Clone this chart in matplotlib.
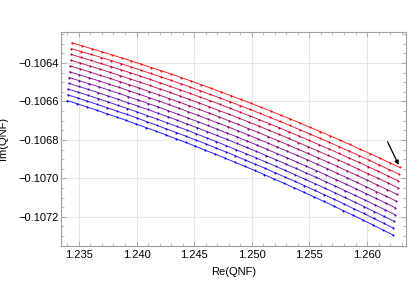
import matplotlib
matplotlib.use("Agg")
import matplotlib.pyplot as plt
from matplotlib.ticker import MultipleLocator

plt.rcParams['font.family'] = ['Liberation Sans', 'DejaVu Sans']
plt.rcParams['font.size'] = 8

# 11 curves, red (top) to blue (bottom)
re_0 = [1.23439, 1.23525, 1.23611, 1.23698, 1.23784, 1.23870, 1.23956, 1.24042, 1.24128, 1.24215, 1.24301, 1.24387, 1.24473, 1.24559, 1.24646, 1.24732, 1.24818, 1.24904, 1.24990, 1.25076, 1.25163, 1.25249, 1.25335, 1.25421, 1.25507, 1.25594, 1.25680, 1.25766, 1.25852, 1.25938, 1.26024, 1.26111, 1.26197, 1.26283]
im_0 = [-0.106296, -0.106311, -0.106326, -0.106342, -0.106358, -0.106374, -0.106390, -0.106407, -0.106424, -0.106441, -0.106458, -0.106476, -0.106494, -0.106513, -0.106532, -0.106551, -0.106570, -0.106590, -0.106609, -0.106630, -0.106650, -0.106671, -0.106692, -0.106713, -0.106735, -0.106757, -0.106779, -0.106802, -0.106824, -0.106848, -0.106871, -0.106895, -0.106919, -0.106943]

re_1 = [1.23435, 1.23521, 1.23607, 1.23694, 1.23780, 1.23866, 1.23952, 1.24038, 1.24123, 1.24210, 1.24296, 1.24382, 1.24468, 1.24554, 1.24641, 1.24727, 1.24813, 1.24899, 1.24985, 1.25071, 1.25158, 1.25244, 1.25330, 1.25416, 1.25501, 1.25588, 1.25674, 1.25760, 1.25846, 1.25932, 1.26018, 1.26105, 1.26191, 1.26277]
im_1 = [-0.106326, -0.106341, -0.106356, -0.106372, -0.106388, -0.106404, -0.106421, -0.106438, -0.106455, -0.106472, -0.106490, -0.106508, -0.106526, -0.106545, -0.106564, -0.106583, -0.106602, -0.106622, -0.106642, -0.106662, -0.106683, -0.106704, -0.106725, -0.106747, -0.106769, -0.106791, -0.106813, -0.106836, -0.106859, -0.106882, -0.106905, -0.106930, -0.106954, -0.106978]

re_2 = [1.23431, 1.23517, 1.23603, 1.23690, 1.23775, 1.23861, 1.23947, 1.24033, 1.24119, 1.24206, 1.24292, 1.24378, 1.24463, 1.24549, 1.24636, 1.24722, 1.24808, 1.24894, 1.24980, 1.25066, 1.25152, 1.25238, 1.25324, 1.25410, 1.25496, 1.25583, 1.25669, 1.25755, 1.25840, 1.25926, 1.26012, 1.26099, 1.26185, 1.26271]
im_2 = [-0.106356, -0.106371, -0.106387, -0.106403, -0.106419, -0.106435, -0.106452, -0.106469, -0.106486, -0.106504, -0.106522, -0.106540, -0.106558, -0.106577, -0.106596, -0.106615, -0.106635, -0.106655, -0.106675, -0.106695, -0.106716, -0.106737, -0.106759, -0.106780, -0.106802, -0.106825, -0.106847, -0.106870, -0.106893, -0.106916, -0.106940, -0.106964, -0.106989, -0.107013]

re_3 = [1.23427, 1.23513, 1.23599, 1.23685, 1.23771, 1.23857, 1.23943, 1.24029, 1.24114, 1.24201, 1.24287, 1.24373, 1.24459, 1.24545, 1.24631, 1.24717, 1.24803, 1.24889, 1.24975, 1.25060, 1.25147, 1.25233, 1.25319, 1.25405, 1.25490, 1.25577, 1.25663, 1.25749, 1.25835, 1.25920, 1.26006, 1.26093, 1.26179, 1.26265]
im_3 = [-0.106386, -0.106401, -0.106417, -0.106433, -0.106449, -0.106466, -0.106483, -0.106500, -0.106517, -0.106535, -0.106553, -0.106571, -0.106590, -0.106609, -0.106628, -0.106648, -0.106667, -0.106687, -0.106708, -0.106728, -0.106750, -0.106771, -0.106792, -0.106814, -0.106836, -0.106859, -0.106881, -0.106904, -0.106927, -0.106951, -0.106975, -0.106999, -0.107023, -0.107048]

re_4 = [1.23423, 1.23509, 1.23594, 1.23681, 1.23767, 1.23853, 1.23938, 1.24024, 1.24110, 1.24197, 1.24282, 1.24368, 1.24454, 1.24540, 1.24626, 1.24712, 1.24798, 1.24884, 1.24969, 1.25055, 1.25142, 1.25228, 1.25313, 1.25399, 1.25485, 1.25572, 1.25657, 1.25743, 1.25829, 1.25915, 1.26000, 1.26087, 1.26173, 1.26259]
im_4 = [-0.106416, -0.106431, -0.106447, -0.106464, -0.106480, -0.106497, -0.106514, -0.106531, -0.106549, -0.106567, -0.106585, -0.106603, -0.106622, -0.106641, -0.106660, -0.106680, -0.106700, -0.106720, -0.106741, -0.106761, -0.106783, -0.106804, -0.106826, -0.106848, -0.106870, -0.106893, -0.106915, -0.106938, -0.106962, -0.106985, -0.107009, -0.107034, -0.107058, -0.107083]

re_5 = [1.23419, 1.23505, 1.23590, 1.23677, 1.23763, 1.23848, 1.23934, 1.24020, 1.24105, 1.24192, 1.24278, 1.24364, 1.24449, 1.24535, 1.24622, 1.24707, 1.24793, 1.24879, 1.24964, 1.25050, 1.25137, 1.25222, 1.25308, 1.25394, 1.25479, 1.25566, 1.25652, 1.25737, 1.25823, 1.25909, 1.25994, 1.26081, 1.26167, 1.26253]
im_5 = [-0.106446, -0.106462, -0.106478, -0.106494, -0.106511, -0.106527, -0.106545, -0.106562, -0.106580, -0.106598, -0.106616, -0.106635, -0.106654, -0.106673, -0.106693, -0.106712, -0.106732, -0.106753, -0.106773, -0.106794, -0.106816, -0.106837, -0.106859, -0.106881, -0.106903, -0.106926, -0.106949, -0.106973, -0.106996, -0.107020, -0.107044, -0.107069, -0.107093, -0.107118]

re_6 = [1.23415, 1.23501, 1.23586, 1.23673, 1.23758, 1.23844, 1.23930, 1.24015, 1.24101, 1.24188, 1.24273, 1.24359, 1.24444, 1.24530, 1.24617, 1.24702, 1.24788, 1.24874, 1.24959, 1.25045, 1.25131, 1.25217, 1.25303, 1.25388, 1.25474, 1.25560, 1.25646, 1.25732, 1.25817, 1.25903, 1.25989, 1.26075, 1.26161, 1.26246]
im_6 = [-0.106476, -0.106492, -0.106508, -0.106524, -0.106541, -0.106558, -0.106576, -0.106593, -0.106611, -0.106629, -0.106648, -0.106667, -0.106686, -0.106705, -0.106725, -0.106745, -0.106765, -0.106785, -0.106806, -0.106827, -0.106849, -0.106871, -0.106892, -0.106915, -0.106937, -0.106960, -0.106983, -0.107007, -0.107030, -0.107054, -0.107079, -0.107103, -0.107128, -0.107153]

re_7 = [1.23411, 1.23497, 1.23582, 1.23669, 1.23754, 1.23840, 1.23925, 1.24011, 1.24096, 1.24183, 1.24269, 1.24354, 1.24440, 1.24525, 1.24612, 1.24697, 1.24783, 1.24868, 1.24954, 1.25040, 1.25126, 1.25212, 1.25297, 1.25383, 1.25468, 1.25555, 1.25640, 1.25726, 1.25812, 1.25897, 1.25983, 1.26069, 1.26155, 1.26240]
im_7 = [-0.106506, -0.106522, -0.106538, -0.106555, -0.106572, -0.106589, -0.106607, -0.106624, -0.106642, -0.106661, -0.106679, -0.106698, -0.106718, -0.106737, -0.106757, -0.106777, -0.106797, -0.106818, -0.106839, -0.106860, -0.106882, -0.106904, -0.106926, -0.106948, -0.106971, -0.106994, -0.107017, -0.107041, -0.107065, -0.107089, -0.107113, -0.107138, -0.107163, -0.107188]

re_8 = [1.23407, 1.23492, 1.23578, 1.23664, 1.23750, 1.23835, 1.23921, 1.24006, 1.24092, 1.24178, 1.24264, 1.24349, 1.24435, 1.24520, 1.24607, 1.24692, 1.24778, 1.24863, 1.24949, 1.25034, 1.25121, 1.25206, 1.25292, 1.25377, 1.25463, 1.25549, 1.25635, 1.25720, 1.25806, 1.25891, 1.25977, 1.26063, 1.26149, 1.26234]
im_8 = [-0.106536, -0.106552, -0.106568, -0.106585, -0.106602, -0.106620, -0.106637, -0.106655, -0.106674, -0.106692, -0.106711, -0.106730, -0.106749, -0.106769, -0.106789, -0.106809, -0.106830, -0.106851, -0.106872, -0.106893, -0.106915, -0.106937, -0.106959, -0.106982, -0.107005, -0.107028, -0.107051, -0.107075, -0.107099, -0.107123, -0.107148, -0.107173, -0.107198, -0.107223]

re_9 = [1.23403, 1.23488, 1.23574, 1.23660, 1.23746, 1.23831, 1.23917, 1.24002, 1.24087, 1.24174, 1.24259, 1.24345, 1.24430, 1.24516, 1.24602, 1.24687, 1.24773, 1.24858, 1.24944, 1.25029, 1.25116, 1.25201, 1.25286, 1.25372, 1.25457, 1.25544, 1.25629, 1.25715, 1.25800, 1.25885, 1.25971, 1.26057, 1.26143, 1.26228]
im_9 = [-0.106566, -0.106582, -0.106599, -0.106616, -0.106633, -0.106651, -0.106668, -0.106686, -0.106705, -0.106724, -0.106743, -0.106762, -0.106781, -0.106801, -0.106821, -0.106842, -0.106862, -0.106883, -0.106905, -0.106926, -0.106948, -0.106970, -0.106993, -0.107015, -0.107038, -0.107062, -0.107085, -0.107109, -0.107133, -0.107158, -0.107182, -0.107208, -0.107233, -0.107258]

re_10 = [1.23399, 1.23484, 1.23570, 1.23656, 1.23741, 1.23827, 1.23912, 1.23998, 1.24083, 1.24169, 1.24255, 1.24340, 1.24425, 1.24511, 1.24597, 1.24682, 1.24768, 1.24853, 1.24939, 1.25024, 1.25110, 1.25196, 1.25281, 1.25366, 1.25452, 1.25538, 1.25623, 1.25709, 1.25794, 1.25880, 1.25965, 1.26051, 1.26137, 1.26222]
im_10 = [-0.106596, -0.106612, -0.106629, -0.106646, -0.106664, -0.106681, -0.106699, -0.106718, -0.106736, -0.106755, -0.106774, -0.106794, -0.106813, -0.106833, -0.106854, -0.106874, -0.106895, -0.106916, -0.106937, -0.106959, -0.106981, -0.107004, -0.107026, -0.107049, -0.107072, -0.107096, -0.107119, -0.107143, -0.107168, -0.107192, -0.107217, -0.107242, -0.107268, -0.107293]

curves = [(re_0, im_0), (re_1, im_1), (re_2, im_2), (re_3, im_3), (re_4, im_4), (re_5, im_5),
          (re_6, im_6), (re_7, im_7), (re_8, im_8), (re_9, im_9), (re_10, im_10)]

x_ticks = [1.235, 1.240, 1.245, 1.250, 1.255, 1.260]
x_ticklabels = ['1.235', '1.240', '1.245', '1.250', '1.255', '1.260']
y_ticks = [-0.1072, -0.1070, -0.1068, -0.1066, -0.1064]
y_ticklabels = ['\u22120.1072', '\u22120.1070', '\u22120.1068', '\u22120.1066', '\u22120.1064']

# arrow pointing at the end of the top curve
arrow_tail = (1.26178, -0.106810)
arrow_head = (1.26274, -0.106930)

fig = plt.figure(figsize=(4.09, 3.07), dpi=100)
ax = fig.add_axes([0.149, 0.199, 0.844, 0.697])

n = len(curves)
for k, (re, im) in enumerate(curves):
    t = k / (n - 1)
    col = (1 - t, 0, t)
    ax.plot(re, im, '-', color=col, lw=0.7, alpha=0.85)
    ax.plot(re, im, 'o', color=col, ms=1.5, mew=0)

ax.annotate('', xy=arrow_head, xytext=arrow_tail,
            arrowprops=dict(arrowstyle='-|>', color='black', lw=0.9,
                            mutation_scale=6, shrinkA=0, shrinkB=0))

ax.set_xlim(1.23344, 1.26339)
ax.set_ylim(-0.107351, -0.106239)

ax.set_xticks(x_ticks)
ax.set_xticklabels(x_ticklabels)
ax.set_yticks(y_ticks)
ax.set_yticklabels(y_ticklabels)
ax.xaxis.set_minor_locator(MultipleLocator(0.001))
ax.yaxis.set_minor_locator(MultipleLocator(0.00005))

ax.grid(True, which='major', color='#e6e6e6', lw=0.8)
ax.set_axisbelow(True)
for s in ax.spines.values():
    s.set_color('#a0a0a0')
    s.set_linewidth(0.8)
ax.tick_params(which='both', direction='in', color='#a0a0a0', top=True, right=True)
ax.tick_params(which='major', length=3.5, width=0.6)
ax.tick_params(which='minor', length=2, width=0.5)
ax.tick_params(axis='y', pad=1.5)
ax.tick_params(axis='x', pad=3)

ax.set_xlabel('Re(QNF)')
ax.set_ylabel('Im(QNF)')
ax.xaxis.set_label_coords(0.5, -0.098)
ax.yaxis.set_label_coords(-0.152, 0.5)

fig.savefig('out.png', dpi=100)
